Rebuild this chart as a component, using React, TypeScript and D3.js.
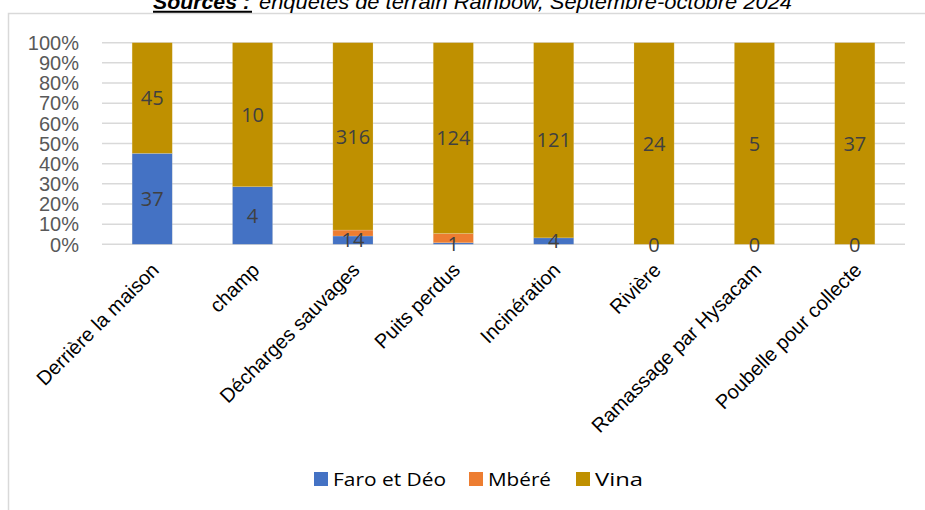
import React from "react";
import * as d3 from "d3";

const categories = [
  "Derrière la maison",
  "champ",
  "Décharges sauvages",
  "Puits perdus",
  "Incinération",
  "Rivière",
  "Ramassage par Hysacam",
  "Poubelle pour collecte",
];
const faroEtDeo = [37, 4, 14, 1, 4, 0, 0, 0];
const mbere = [0, 0, 10, 6, 0, 0, 0, 0];
const vina = [45, 10, 316, 124, 121, 24, 5, 37];
const seriesNames = ["Faro et Déo", "Mbéré", "Vina"];
const seriesColors = ["#4472C4", "#ED7D31", "#BF9000"];
const showLabels = [true, false, true];
const yTicks = [0, 0.1, 0.2, 0.3, 0.4, 0.5, 0.6, 0.7, 0.8, 0.9, 1];
const titleBold = "Sources :";
const titleRest = "enquêtes de terrain Rainbow, Septembre-octobre 2024";

export default function App() {
  const W = 925;
  const H = 510;
  const left = 102;
  const right = 905;
  const top = 42.7;
  const bottom = 244.3;

  const rows = categories.map((c, i) => ({
    cat: c,
    s0: faroEtDeo[i],
    s1: mbere[i],
    s2: vina[i],
  }));
  const stack = d3
    .stack<any>()
    .keys(["s0", "s1", "s2"])
    .offset(d3.stackOffsetExpand);
  const layers = stack(rows);

  const x = d3.scaleBand<string>().domain(categories).range([left, right]).paddingInner(0.6).paddingOuter(0.3);
  const y = d3.scaleLinear().domain([0, 1]).range([bottom, top]);
  const bw = x.bandwidth();

  const fmt = d3.format(".0%");
  const raw = [faroEtDeo, mbere, vina];

  return (
    <svg
      width={W}
      height={H}
      style={{ position: "absolute", left: 0, top: 0, background: "#fff" }}
    >
      <rect x={8.5} y={13.5} width={W + 10} height={H + 10} fill="#fff" stroke="#d9d9d9" strokeWidth={1.5} />
      <text
        x={153}
        y={9}
        fontFamily="Liberation Sans, Arial, sans-serif"
        fontSize={20}
        fontWeight="bold"
        fontStyle="italic"
        fill="#000"
        textLength={97}
        lengthAdjust="spacingAndGlyphs"
      >
        {titleBold}
      </text>
      <line x1={153} x2={252} y1={11.8} y2={11.8} stroke="#000" strokeWidth={2} />
      <text
        x={259}
        y={9}
        fontFamily="Liberation Sans, Arial, sans-serif"
        fontSize={20}
        fontStyle="italic"
        fill="#000"
        textLength={533}
        lengthAdjust="spacingAndGlyphs"
      >
        {titleRest}
      </text>

      {yTicks.map((t) => (
        <g key={t}>
          <line x1={left} x2={right} y1={y(t)} y2={y(t)} stroke="#d9d9d9" strokeWidth={1.5} />
          <text
            x={79}
            y={y(t)}
            dy="0.36em"
            textAnchor="end"
            fontFamily="Liberation Sans, Arial, sans-serif"
            fontSize={20}
            fill="#595959"
          >
            {fmt(t)}
          </text>
        </g>
      ))}

      {layers.map((layer, li) => (
        <g key={li}>
          {layer.map((d, i) => {
            const y0 = y(d[0]);
            const y1 = y(d[1]);
            return (
              <rect
                key={i}
                x={x(categories[i])}
                y={y1}
                width={bw}
                height={Math.max(0, y0 - y1)}
                fill={seriesColors[li]}
                stroke="#f2e6c8"
                strokeOpacity={0.35}
                strokeWidth={0.6}
              />
            );
          })}
        </g>
      ))}

      {layers.map((layer, li) =>
        showLabels[li]
          ? layer.map((d, i) => (
              <text
                key={`${li}-${i}`}
                x={(x(categories[i]) || 0) + bw / 2}
                y={(y(d[0]) + y(d[1])) / 2}
                dy="0.36em"
                textAnchor="middle"
                fontFamily="Open Sans, sans-serif"
                fontSize={20}
                fill="#404040"
              >
                {raw[li][i]}
              </text>
            ))
          : null
      )}

      {categories.map((c) => {
        const cx = (x(c) || 0) + bw / 2 + 8;
        const cy = bottom + 27;
        return (
          <text
            key={c}
            transform={`translate(${cx},${cy}) rotate(-45)`}
            textAnchor="end"
            fontFamily="Liberation Sans, Arial, sans-serif"
            fontSize={20}
            fill="#000"
          >
            {c}
          </text>
        );
      })}

      {(() => {
        const pos = [314, 469, 576];
        const widths = [113, 63, 48];
        return seriesNames.map((n, i) => (
          <g key={n}>
            <rect x={pos[i]} y={472} width={14} height={14} fill={seriesColors[i]} />
            <text
              x={pos[i] + 19}
              y={479}
              dy="0.36em"
              fontFamily="Open Sans, sans-serif"
              fontSize={19}
              fill="#000"
              textLength={widths[i]}
              lengthAdjust="spacingAndGlyphs"
            >
              {n}
            </text>
          </g>
        ));
      })()}
    </svg>
  );
}
